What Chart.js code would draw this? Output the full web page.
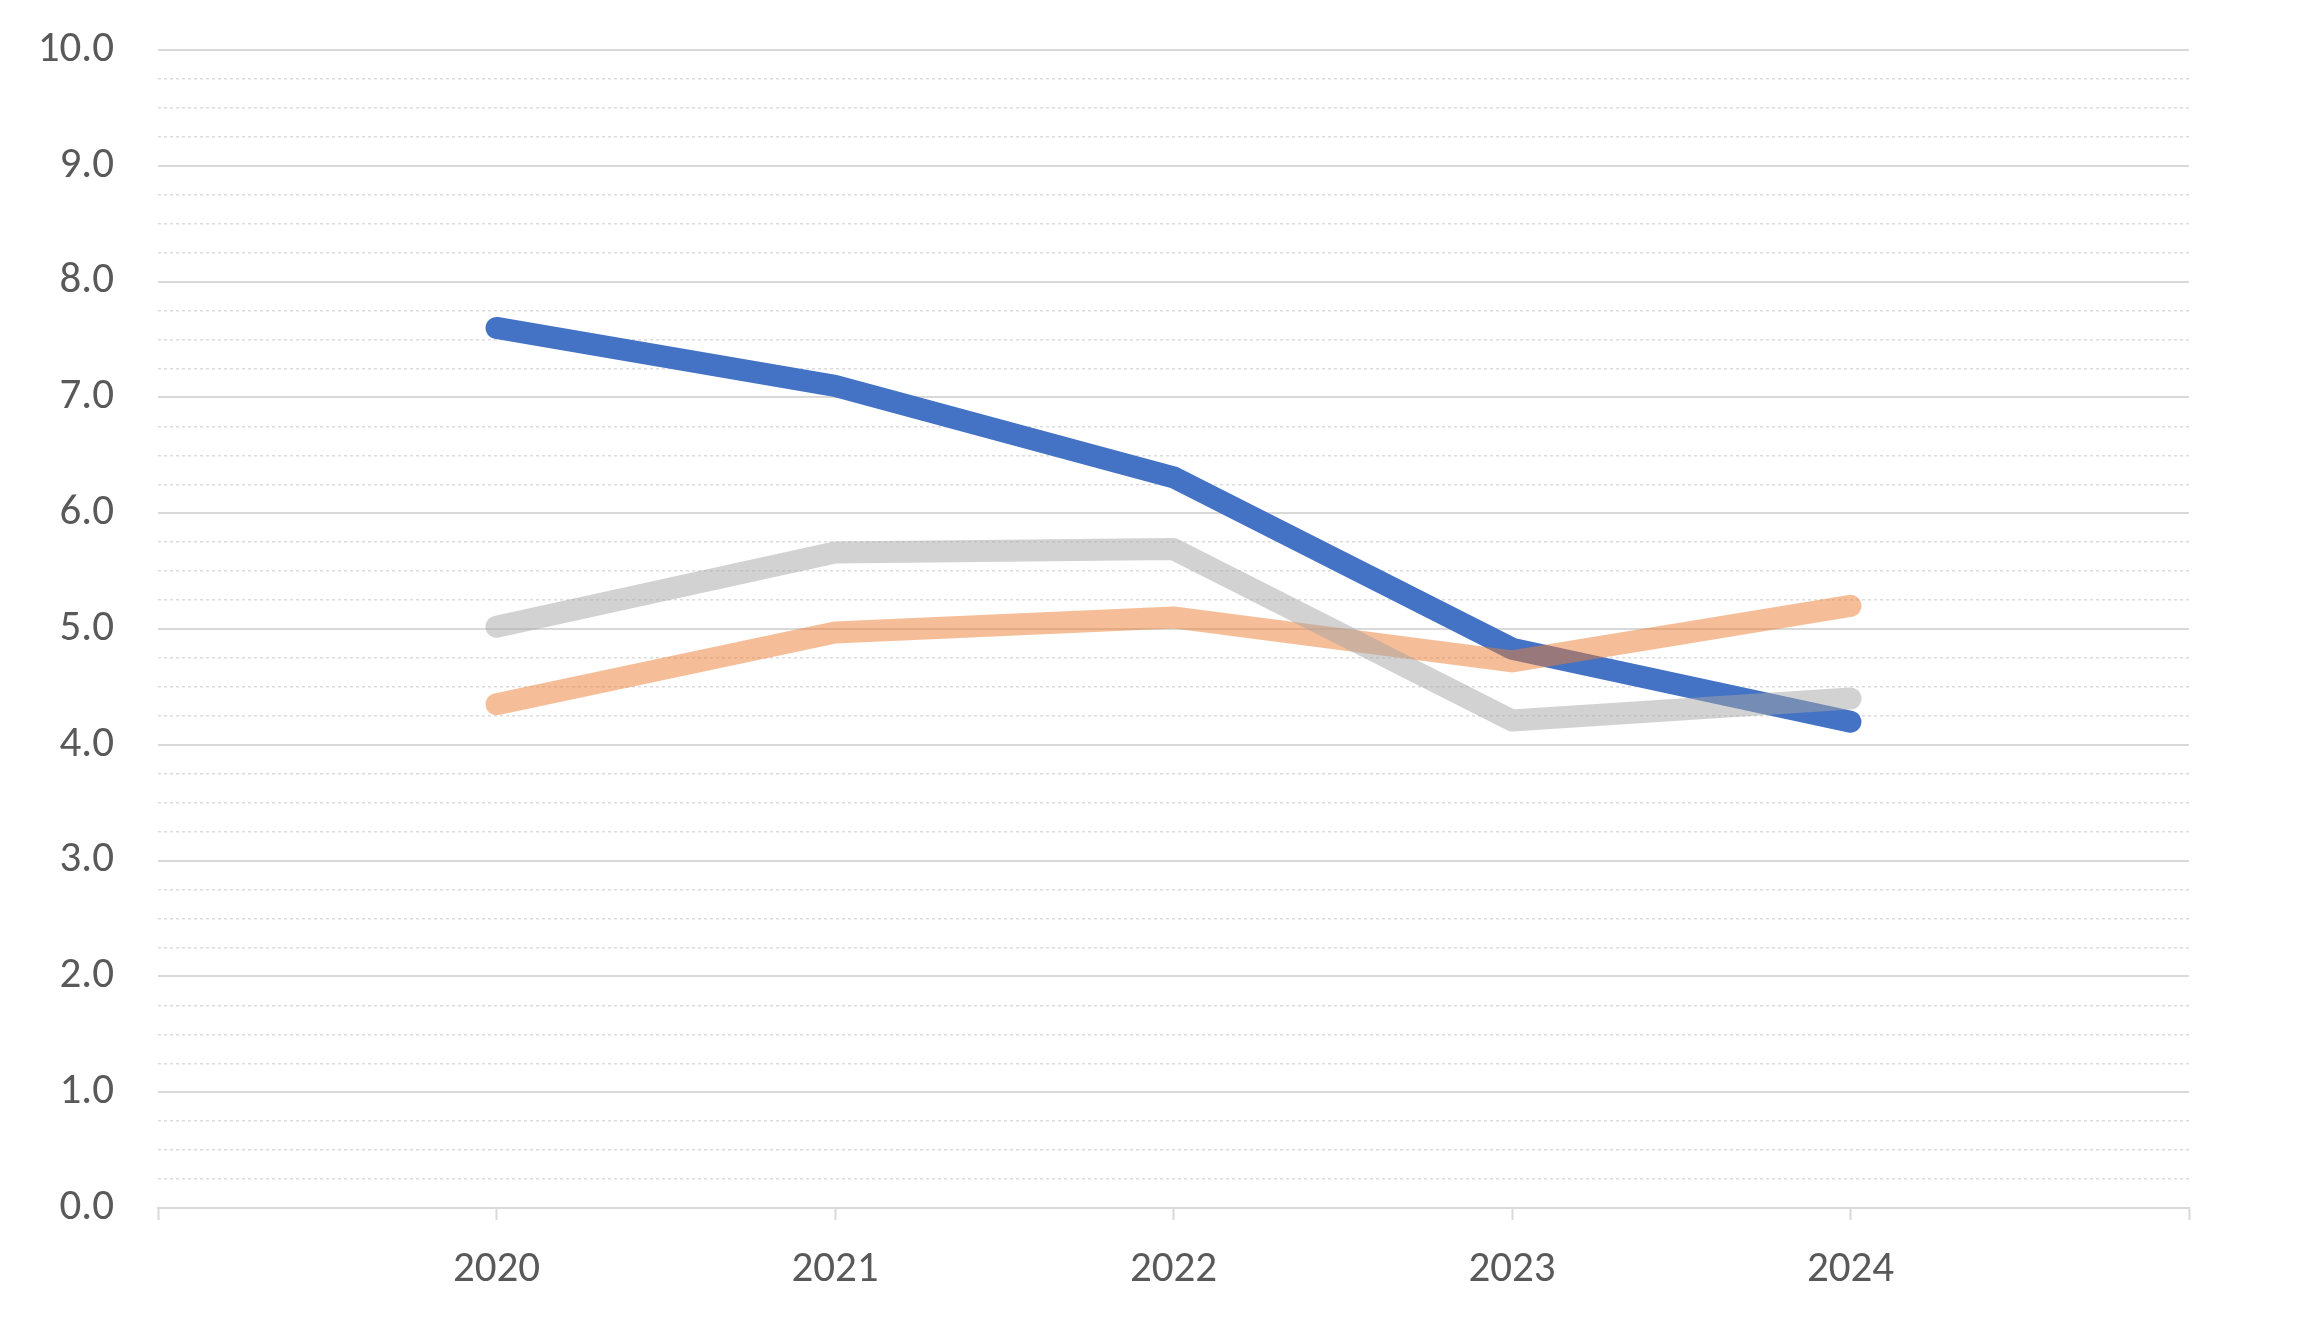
<!DOCTYPE html>
<html>
<head>
<meta charset="utf-8">
<script src="https://cdn.jsdelivr.net/npm/chart.js@4.4.1/dist/chart.umd.min.js"></script>
<style>
    html, body { margin: 0; padding: 0; background: #fff; }
    #wrap { width: 2319px; height: 1329px; }
</style>
</head>
<body>
<div id="wrap"><canvas id="lineChart"></canvas></div>
<script>
// Values
const years = [2020, 2021, 2022, 2023, 2024];
const series1 = [7.60, 7.10, 6.31, 4.83, 4.20];
const series2 = [4.35, 4.97, 5.10, 4.72, 5.20];
const series3 = [5.02, 5.66, 5.69, 4.21, 4.40];
const yTicks = [0, 1, 2, 3, 4, 5, 6, 7, 8, 9, 10];

const labelFont = { family: "Carlito, Calibri, Lato, sans-serif", size: 43 };
const gridGray = '#D9D9D9';

function toPoints(values) {
    return years.map((yr, i) => ({ x: yr, y: values[i] }));
}

function lineSet(label, values, color, order) {
    return {
        label: label,
        data: toPoints(values),
        borderColor: color,
        backgroundColor: color,
        borderWidth: 22,
        borderCapStyle: 'round',
        borderJoinStyle: 'round',
        pointRadius: 0,
        tension: 0,
        fill: false,
        order: order
    };
}

// let the layout padding alone decide where the plot area starts
function noVertPadding(scale, width) {
    scale.width = width;
    scale.paddingTop = 0;
    scale.paddingBottom = 0;
}

const ctx = document.getElementById('lineChart').getContext('2d');
const lineChart = new Chart(ctx, {
    type: 'line',
    data: {
        datasets: [
            lineSet('Series 1', series1, '#4472C4', 3),
            lineSet('Series 2', series2, 'rgba(237, 125, 49, 0.5)', 2),
            lineSet('Series 3', series3, 'rgba(165, 165, 165, 0.5)', 1)
        ]
    },
    options: {
        responsive: true,
        maintainAspectRatio: false,
        animation: false,
        layout: {
            padding: { top: 50, right: 130, bottom: 0, left: 0 }
        },
        plugins: {
            legend: { display: false },
            tooltip: { enabled: false }
        },
        scales: {
            x: {
                type: 'linear',
                min: 2019,
                max: 2025,
                afterBuildTicks: (scale) => {
                    scale.ticks = [2019].concat(years, [2025]).map(v => ({ value: v }));
                },
                ticks: {
                    color: '#595959',
                    font: labelFont,
                    padding: 24,
                    callback: (val) => years.includes(val) ? String(val) : ''
                },
                grid: {
                    drawOnChartArea: false,
                    drawTicks: true,
                    tickLength: 12,
                    tickColor: gridGray,
                    tickWidth: 2
                },
                border: { color: gridGray, width: 2 },
                afterFit: (scale) => { scale.height = 121; }
            },
            y: {
                position: 'left',
                min: 0,
                max: 10,
                afterBuildTicks: (scale) => {
                    scale.ticks = yTicks.map(v => ({ value: v }));
                },
                ticks: {
                    color: '#595959',
                    font: labelFont,
                    padding: 44,
                    callback: (val) => val.toFixed(1)
                },
                grid: {
                    color: gridGray,
                    lineWidth: 2,
                    drawTicks: false
                },
                border: { display: false },
                afterFit: (scale) => noVertPadding(scale, 158)
            },
            yMinor: {
                position: 'left',
                min: 0,
                max: 10,
                ticks: { display: false, stepSize: 0.25 },
                grid: {
                    drawTicks: false,
                    lineWidth: 1.5,
                    color: (c) => Number.isInteger(c.tick.value) ? 'rgba(0,0,0,0)' : '#DCDCDC'
                },
                border: { display: false, dash: [3, 3] },
                afterFit: (scale) => noVertPadding(scale, 0)
            }
        }
    }
});
</script>
</body>
</html>
